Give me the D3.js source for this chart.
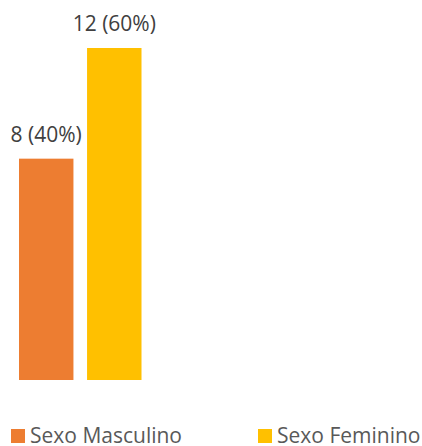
<!DOCTYPE html>
<html>
<head>
<meta charset="utf-8">
<script src="https://cdn.jsdelivr.net/npm/d3@7"></script>
<style>
  html, body { margin: 0; padding: 0; background: #fff; }
  svg { display: block; font-family: "Open Sans", sans-serif; }
</style>
</head>
<body>
<svg id="chart" width="422" height="446"></svg>
<script>
// Respondents by sex
const categories = ["Sexo Masculino", "Sexo Feminino"];
const counts = [8, 12];
const percents = [40, 60];
const colors = ["#ED7D31", "#FFC000"];

const svg = d3.select("#chart");

const x = d3.scaleBand()
  .domain(categories)
  .range([19, 141.5])
  .paddingInner(0.2)
  .paddingOuter(0);

const y = d3.scaleLinear()
  .domain([0, 12])
  .range([380, 48]);

const color = d3.scaleOrdinal().domain(categories).range(colors);

const data = categories.map((c, i) => ({ cat: c, n: counts[i], pct: percents[i] }));

svg.append("g").selectAll("rect")
  .data(data)
  .join("rect")
  .attr("x", d => x(d.cat))
  .attr("width", x.bandwidth())
  .attr("y", d => y(d.n))
  .attr("height", d => y(0) - y(d.n))
  .attr("fill", d => color(d.cat));

svg.append("g").selectAll("text")
  .data(data)
  .join("text")
  .attr("x", d => x(d.cat) + x.bandwidth() / 2)
  .attr("y", d => y(d.n) - 17)
  .attr("text-anchor", "middle")
  .attr("font-size", 21)
  .attr("fill", "#404040")
  .text(d => `${d.n} (${d.pct}%)`);

// Legend
const legendX = d3.scalePoint().domain(categories).range([11, 258]);
const legend = svg.append("g").selectAll("g")
  .data(categories)
  .join("g")
  .attr("transform", c => `translate(${legendX(c)},0)`);

legend.append("rect")
  .attr("x", 0)
  .attr("y", 429)
  .attr("width", 14)
  .attr("height", 14)
  .attr("fill", c => color(c));

legend.append("text")
  .attr("x", 19)
  .attr("y", 443)
  .attr("font-size", 21)
  .attr("fill", "#595959")
  .text(c => c);
</script>
</body>
</html>
